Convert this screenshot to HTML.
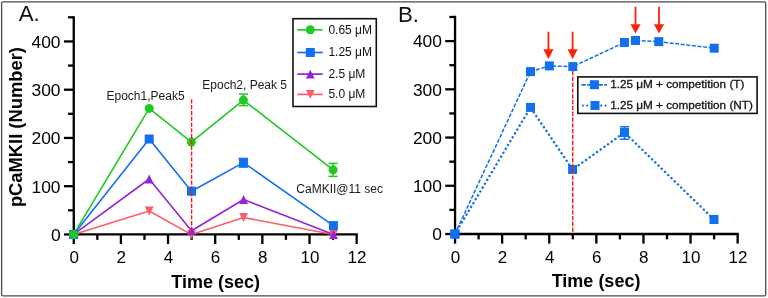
<!DOCTYPE html>
<html><head><meta charset="utf-8"><style>
html,body{margin:0;padding:0;background:#fff;}
body{width:768px;height:298px;overflow:hidden;position:relative;}
svg{position:absolute;left:0;top:0;will-change:transform;font-family:"Liberation Sans",sans-serif;}
</style></head><body>
<svg width="768" height="298" viewBox="0 0 768 298">
<rect x="1.6" y="1.8" width="764.1" height="294.15" rx="1.5" fill="#fff" stroke="#4a4a4a" stroke-width="1.3"/>
<path d="M73.75 16.17 V234.45 H357.8" fill="none" stroke="#000" stroke-width="2.3" />
<line x1="63.95" y1="234.45" x2="73.75" y2="234.45" stroke="#000" stroke-width="2.3"/>
<text x="60.55" y="240.95" text-anchor="end" font-size="17.4">0</text>
<line x1="68.05" y1="210.32" x2="73.75" y2="210.32" stroke="#000" stroke-width="2.3"/>
<line x1="63.95" y1="186.2" x2="73.75" y2="186.2" stroke="#000" stroke-width="2.3"/>
<text x="60.55" y="192.7" text-anchor="end" font-size="17.4">100</text>
<line x1="68.05" y1="162.07" x2="73.75" y2="162.07" stroke="#000" stroke-width="2.3"/>
<line x1="63.95" y1="137.95" x2="73.75" y2="137.95" stroke="#000" stroke-width="2.3"/>
<text x="60.55" y="144.45" text-anchor="end" font-size="17.4">200</text>
<line x1="68.05" y1="113.82" x2="73.75" y2="113.82" stroke="#000" stroke-width="2.3"/>
<line x1="63.95" y1="89.7" x2="73.75" y2="89.7" stroke="#000" stroke-width="2.3"/>
<text x="60.55" y="96.2" text-anchor="end" font-size="17.4">300</text>
<line x1="68.05" y1="65.57" x2="73.75" y2="65.57" stroke="#000" stroke-width="2.3"/>
<line x1="63.95" y1="41.45" x2="73.75" y2="41.45" stroke="#000" stroke-width="2.3"/>
<text x="60.55" y="47.95" text-anchor="end" font-size="17.4">400</text>
<line x1="68.05" y1="17.32" x2="73.75" y2="17.32" stroke="#000" stroke-width="2.3"/>
<line x1="73.75" y1="234.45" x2="73.75" y2="244.05" stroke="#000" stroke-width="2.3"/>
<text x="74.15" y="263.2" text-anchor="middle" font-size="17">0</text>
<line x1="97.33" y1="234.45" x2="97.33" y2="239.85" stroke="#000" stroke-width="2.3"/>
<line x1="120.9" y1="234.45" x2="120.9" y2="244.05" stroke="#000" stroke-width="2.3"/>
<text x="121.3" y="263.2" text-anchor="middle" font-size="17">2</text>
<line x1="144.47" y1="234.45" x2="144.47" y2="239.85" stroke="#000" stroke-width="2.3"/>
<line x1="168.05" y1="234.45" x2="168.05" y2="244.05" stroke="#000" stroke-width="2.3"/>
<text x="168.45" y="263.2" text-anchor="middle" font-size="17">4</text>
<line x1="191.62" y1="234.45" x2="191.62" y2="239.85" stroke="#000" stroke-width="2.3"/>
<line x1="215.2" y1="234.45" x2="215.2" y2="244.05" stroke="#000" stroke-width="2.3"/>
<text x="215.6" y="263.2" text-anchor="middle" font-size="17">6</text>
<line x1="238.78" y1="234.45" x2="238.78" y2="239.85" stroke="#000" stroke-width="2.3"/>
<line x1="262.35" y1="234.45" x2="262.35" y2="244.05" stroke="#000" stroke-width="2.3"/>
<text x="262.75" y="263.2" text-anchor="middle" font-size="17">8</text>
<line x1="285.92" y1="234.45" x2="285.92" y2="239.85" stroke="#000" stroke-width="2.3"/>
<line x1="309.5" y1="234.45" x2="309.5" y2="244.05" stroke="#000" stroke-width="2.3"/>
<text x="309.9" y="263.2" text-anchor="middle" font-size="17">10</text>
<line x1="333.07" y1="234.45" x2="333.07" y2="239.85" stroke="#000" stroke-width="2.3"/>
<line x1="356.65" y1="234.45" x2="356.65" y2="244.05" stroke="#000" stroke-width="2.3"/>
<text x="357.05" y="263.2" text-anchor="middle" font-size="17">12</text>
<text x="215.6" y="287.8" text-anchor="middle" font-size="18" font-weight="bold">Time (sec)</text>
<text transform="translate(22.3 127.1) rotate(-90)" x="0" y="0" text-anchor="middle" font-size="18.35" font-weight="bold">pCaMKII (Number)</text>
<polyline points="73.65,234.4 149.2,211 191.5,234.6 243.6,217.5 333.5,234.5" fill="none" stroke="#fd5d66" stroke-width="1.6" stroke-linejoin="round" />
<polyline points="73.65,234.4 149.2,179 191.5,230.7 243.6,199.5 333.5,234.5" fill="none" stroke="#9624d4" stroke-width="1.6" stroke-linejoin="round" />
<polyline points="73.65,234.4 149.2,139 191.5,191.2 243.45,162.6 333.4,225.6" fill="none" stroke="#126ff0" stroke-width="1.6" stroke-linejoin="round" />
<polyline points="73.65,234.4 149.2,108.4 191.4,142.1 243.4,100.1 333.1,169.9" fill="none" stroke="#20c822" stroke-width="1.6" stroke-linejoin="round" />
<line x1="243.4" y1="94.1" x2="243.4" y2="105.6" stroke="#20c822" stroke-width="1.5"/><line x1="238.8" y1="94.1" x2="248" y2="94.1" stroke="#20c822" stroke-width="1.5"/><line x1="238.8" y1="105.6" x2="248" y2="105.6" stroke="#20c822" stroke-width="1.5"/>
<line x1="333.1" y1="163.4" x2="333.1" y2="176.4" stroke="#20c822" stroke-width="1.5"/><line x1="328.5" y1="163.4" x2="337.7" y2="163.4" stroke="#20c822" stroke-width="1.5"/><line x1="328.5" y1="176.4" x2="337.7" y2="176.4" stroke="#20c822" stroke-width="1.5"/>
<line x1="243.3" y1="158.3" x2="243.3" y2="167.2" stroke="#126ff0" stroke-width="1.2"/><line x1="238.5" y1="158.3" x2="248.1" y2="158.3" stroke="#126ff0" stroke-width="1.2"/><line x1="238.5" y1="167.2" x2="248.1" y2="167.2" stroke="#126ff0" stroke-width="1.2"/>
<path d="M69.25 230 L78.05 230 L73.65 238.8Z" fill="#fd5d66"/>
<path d="M144.8 206.6 L153.6 206.6 L149.2 215.4Z" fill="#fd5d66"/>
<path d="M187.1 230.2 L195.9 230.2 L191.5 239Z" fill="#fd5d66"/>
<path d="M239.2 213.1 L248 213.1 L243.6 221.9Z" fill="#fd5d66"/>
<path d="M329.1 230.1 L337.9 230.1 L333.5 238.9Z" fill="#fd5d66"/>
<path d="M73.65 230 L78.05 238.8 L69.25 238.8Z" fill="#9624d4"/>
<path d="M149.2 174.6 L153.6 183.4 L144.8 183.4Z" fill="#9624d4"/>
<path d="M191.5 226.3 L195.9 235.1 L187.1 235.1Z" fill="#9624d4"/>
<path d="M243.6 195.1 L248 203.9 L239.2 203.9Z" fill="#9624d4"/>
<path d="M333.5 230.1 L337.9 238.9 L329.1 238.9Z" fill="#9624d4"/>
<rect x="69.15" y="229.9" width="9.0" height="9.0" fill="#126ff0"/>
<rect x="144.7" y="134.5" width="9.0" height="9.0" fill="#126ff0"/>
<rect x="187" y="186.7" width="9.0" height="9.0" fill="#126ff0"/>
<rect x="238.95" y="158.1" width="9.0" height="9.0" fill="#126ff0"/>
<rect x="328.9" y="221.1" width="9.0" height="9.0" fill="#126ff0"/>
<circle cx="73.65" cy="234.4" r="4.5" fill="#20c822"/>
<circle cx="149.2" cy="108.4" r="4.5" fill="#20c822"/>
<circle cx="191.4" cy="142.1" r="4.5" fill="#20c822"/>
<circle cx="243.4" cy="100.1" r="4.5" fill="#20c822"/>
<circle cx="333.1" cy="169.9" r="4.5" fill="#20c822"/>
<line x1="191.6" y1="99.3" x2="191.6" y2="233.4" stroke="#f51a14" stroke-width="1.4" stroke-dasharray="4.3 1.5"/>
<text x="106.5" y="99.6" font-size="12" fill="#1a1a1a">Epoch1,Peak5</text>
<text x="202.3" y="88.9" font-size="12" fill="#1a1a1a">Epoch2, Peak 5</text>
<text x="296.3" y="193.2" font-size="12" fill="#1a1a1a">CaMKII@11 sec</text>
<rect x="293" y="18.7" width="83.3" height="87.8" fill="#fff" stroke="#111" stroke-width="1.6"/>
<line x1="297.3" y1="29.8" x2="322.7" y2="29.8" stroke="#20c822" stroke-width="1.7"/>
<circle cx="310.3" cy="29.8" r="4.5" fill="#20c822"/>
<text x="328.4" y="33.7" font-size="12" fill="#111">0.65 μM</text>
<line x1="297.3" y1="52.5" x2="322.7" y2="52.5" stroke="#126ff0" stroke-width="1.7"/>
<rect x="305.8" y="48" width="9.0" height="9.0" fill="#126ff0"/>
<text x="328.4" y="56.4" font-size="12" fill="#111">1.25 μM</text>
<line x1="297.3" y1="74.1" x2="322.7" y2="74.1" stroke="#9624d4" stroke-width="1.7"/>
<path d="M310.3 69.7 L314.7 78.5 L305.9 78.5Z" fill="#9624d4"/>
<text x="328.4" y="78" font-size="12" fill="#111">2.5 μM</text>
<line x1="297.3" y1="94.4" x2="322.7" y2="94.4" stroke="#fd5d66" stroke-width="1.7"/>
<path d="M305.9 90 L314.7 90 L310.3 98.8Z" fill="#fd5d66"/>
<text x="328.4" y="98.3" font-size="12" fill="#111">5.0 μM</text>
<text x="18.7" y="21.3" font-size="22.3" fill="#111">A.</text>
<path d="M455.05 15.84 V234 H738.8" fill="none" stroke="#000" stroke-width="2.3" />
<line x1="445.25" y1="234" x2="455.05" y2="234" stroke="#000" stroke-width="2.3"/>
<text x="441.95" y="240.3" text-anchor="end" font-size="17.4">0</text>
<line x1="449.35" y1="209.89" x2="455.05" y2="209.89" stroke="#000" stroke-width="2.3"/>
<line x1="445.25" y1="185.78" x2="455.05" y2="185.78" stroke="#000" stroke-width="2.3"/>
<text x="441.95" y="192.08" text-anchor="end" font-size="17.4">100</text>
<line x1="449.35" y1="161.66" x2="455.05" y2="161.66" stroke="#000" stroke-width="2.3"/>
<line x1="445.25" y1="137.55" x2="455.05" y2="137.55" stroke="#000" stroke-width="2.3"/>
<text x="441.95" y="143.85" text-anchor="end" font-size="17.4">200</text>
<line x1="449.35" y1="113.44" x2="455.05" y2="113.44" stroke="#000" stroke-width="2.3"/>
<line x1="445.25" y1="89.32" x2="455.05" y2="89.32" stroke="#000" stroke-width="2.3"/>
<text x="441.95" y="95.62" text-anchor="end" font-size="17.4">300</text>
<line x1="449.35" y1="65.21" x2="455.05" y2="65.21" stroke="#000" stroke-width="2.3"/>
<line x1="445.25" y1="41.1" x2="455.05" y2="41.1" stroke="#000" stroke-width="2.3"/>
<text x="441.95" y="47.4" text-anchor="end" font-size="17.4">400</text>
<line x1="449.35" y1="16.99" x2="455.05" y2="16.99" stroke="#000" stroke-width="2.3"/>
<line x1="455.05" y1="234" x2="455.05" y2="243.6" stroke="#000" stroke-width="2.3"/>
<text x="455.45" y="262.85" text-anchor="middle" font-size="17">0</text>
<line x1="478.6" y1="234" x2="478.6" y2="239.4" stroke="#000" stroke-width="2.3"/>
<line x1="502.15" y1="234" x2="502.15" y2="243.6" stroke="#000" stroke-width="2.3"/>
<text x="502.55" y="262.85" text-anchor="middle" font-size="17">2</text>
<line x1="525.7" y1="234" x2="525.7" y2="239.4" stroke="#000" stroke-width="2.3"/>
<line x1="549.25" y1="234" x2="549.25" y2="243.6" stroke="#000" stroke-width="2.3"/>
<text x="549.65" y="262.85" text-anchor="middle" font-size="17">4</text>
<line x1="572.8" y1="234" x2="572.8" y2="239.4" stroke="#000" stroke-width="2.3"/>
<line x1="596.35" y1="234" x2="596.35" y2="243.6" stroke="#000" stroke-width="2.3"/>
<text x="596.75" y="262.85" text-anchor="middle" font-size="17">6</text>
<line x1="619.9" y1="234" x2="619.9" y2="239.4" stroke="#000" stroke-width="2.3"/>
<line x1="643.45" y1="234" x2="643.45" y2="243.6" stroke="#000" stroke-width="2.3"/>
<text x="643.85" y="262.85" text-anchor="middle" font-size="17">8</text>
<line x1="667" y1="234" x2="667" y2="239.4" stroke="#000" stroke-width="2.3"/>
<line x1="690.55" y1="234" x2="690.55" y2="243.6" stroke="#000" stroke-width="2.3"/>
<text x="690.95" y="262.85" text-anchor="middle" font-size="17">10</text>
<line x1="714.1" y1="234" x2="714.1" y2="239.4" stroke="#000" stroke-width="2.3"/>
<line x1="737.65" y1="234" x2="737.65" y2="243.6" stroke="#000" stroke-width="2.3"/>
<text x="738.05" y="262.85" text-anchor="middle" font-size="17">12</text>
<text x="596.05" y="287.3" text-anchor="middle" font-size="18" font-weight="bold">Time (sec)</text>
<polyline points="454.9,234.05 530.5,107.4 572.6,169.5 624.5,132.5 714,219.5" fill="none" stroke="#126ff0" stroke-width="2.5" stroke-linejoin="round" stroke-dasharray="0.01 4.5" stroke-linecap="round"/>
<polyline points="454.9,234.05 530.5,71.6 549.4,65.9 572.8,66.6 624.4,42.5 635.5,40.5 658.8,41.65 714.2,48.2" fill="none" stroke="#126ff0" stroke-width="1.5" stroke-linejoin="round" stroke-dasharray="4 1.6"/>
<line x1="624.5" y1="126.8" x2="624.5" y2="139.2" stroke="#126ff0" stroke-width="1.5"/><line x1="619.9" y1="126.8" x2="629.1" y2="126.8" stroke="#126ff0" stroke-width="1.5"/><line x1="619.9" y1="139.2" x2="629.1" y2="139.2" stroke="#126ff0" stroke-width="1.5"/>
<rect x="450.4" y="229.55" width="9.0" height="9.0" fill="#126ff0"/>
<rect x="526" y="102.9" width="9.0" height="9.0" fill="#126ff0"/>
<rect x="568.1" y="165" width="9.0" height="9.0" fill="#126ff0"/>
<rect x="620" y="128" width="9.0" height="9.0" fill="#126ff0"/>
<rect x="709.5" y="215" width="9.0" height="9.0" fill="#126ff0"/>
<rect x="450.4" y="229.55" width="9.0" height="9.0" fill="#126ff0"/>
<rect x="526" y="67.1" width="9.0" height="9.0" fill="#126ff0"/>
<rect x="544.9" y="61.4" width="9.0" height="9.0" fill="#126ff0"/>
<rect x="568.3" y="62.1" width="9.0" height="9.0" fill="#126ff0"/>
<rect x="619.9" y="38" width="9.0" height="9.0" fill="#126ff0"/>
<rect x="631" y="36" width="9.0" height="9.0" fill="#126ff0"/>
<rect x="654.3" y="37.15" width="9.0" height="9.0" fill="#126ff0"/>
<rect x="709.7" y="43.7" width="9.0" height="9.0" fill="#126ff0"/>
<line x1="572.75" y1="71" x2="572.75" y2="233.2" stroke="#f51a14" stroke-width="1.4" stroke-dasharray="4.3 1.5"/>
<line x1="548.4" y1="31.7" x2="548.4" y2="50.2" stroke="#fc2208" stroke-width="1.8"/><path d="M543.3 49.2 L553.5 49.2 L548.4 58.9Z" fill="#fc2208"/>
<line x1="572.6" y1="31.7" x2="572.6" y2="50.2" stroke="#fc2208" stroke-width="1.8"/><path d="M567.5 49.2 L577.7 49.2 L572.6 58.9Z" fill="#fc2208"/>
<line x1="635.5" y1="6.7" x2="635.5" y2="25.3" stroke="#fc2208" stroke-width="1.8"/><path d="M630.4 24.3 L640.6 24.3 L635.5 33.6Z" fill="#fc2208"/>
<line x1="659" y1="6.7" x2="659" y2="25.3" stroke="#fc2208" stroke-width="1.8"/><path d="M653.9 24.3 L664.1 24.3 L659 33.6Z" fill="#fc2208"/>
<rect x="577.8" y="76.9" width="179.3" height="36.5" fill="#fff" stroke="#111" stroke-width="1.6"/>
<line x1="581.5" y1="84.9" x2="607" y2="84.9" stroke="#126ff0" stroke-width="1.6" stroke-dasharray="4.3 1.4"/>
<rect x="589.9" y="80.2" width="9.0" height="9.0" fill="#126ff0"/>
<circle cx="582.9" cy="105.55" r="1.1" fill="#126ff0"/>
<circle cx="587.3" cy="105.55" r="1.1" fill="#126ff0"/>
<circle cx="601.2" cy="105.55" r="1.1" fill="#126ff0"/>
<circle cx="605.6" cy="105.55" r="1.1" fill="#126ff0"/>
<rect x="590.5" y="100.95" width="9.0" height="9.0" fill="#126ff0"/>
<text transform="translate(610.2 87.9) scale(1 0.92)" font-size="11.75" fill="#111" stroke="#111" stroke-width="0.3">1.25 μM + competition (T)</text>
<text transform="translate(610.2 108.5) scale(1 0.92)" font-size="11.75" fill="#111" stroke="#111" stroke-width="0.3">1.25 μM + competition (NT)</text>
<text x="398" y="21.5" font-size="22.3" fill="#111">B.</text>
</svg>
</body></html>
